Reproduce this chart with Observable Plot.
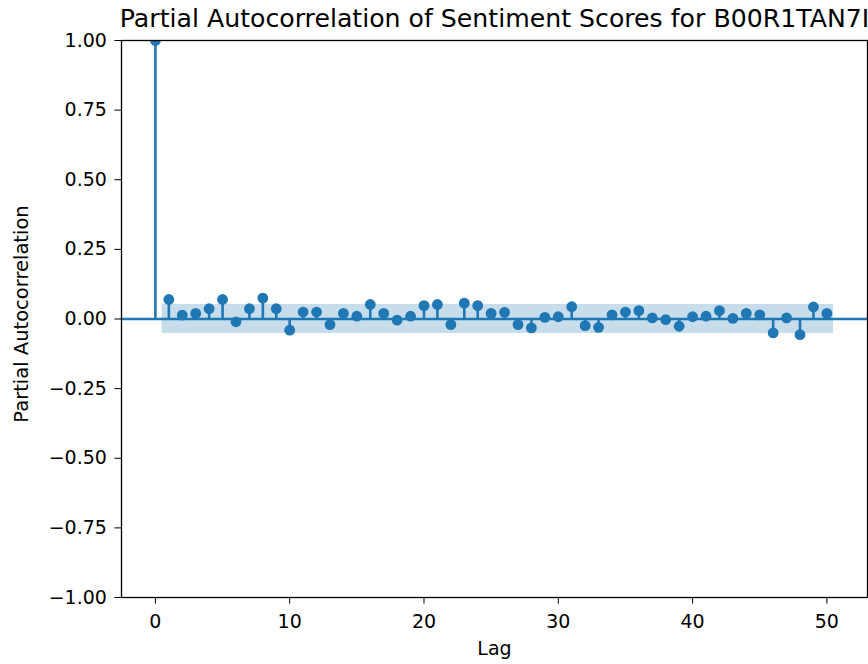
<!DOCTYPE html>
<html>
<head>
<meta charset="utf-8">
<script src="https://cdn.jsdelivr.net/npm/d3@7"></script>
<script src="https://cdn.jsdelivr.net/npm/@observablehq/plot@0.6"></script>
<style>
  html, body { margin: 0; padding: 0; background: #fff; }
  #chart svg { display: block; }
</style>
</head>
<body>
<div id="chart"></div>
<script>
const titleText = "Partial Autocorrelation of Sentiment Scores for B00R1TAN7I";
const xLabel = "Lag";
const yLabel = "Partial Autocorrelation";
const lags = d3.range(0, 51);
const pacfValues = [1.0, 0.070, 0.014, 0.020, 0.037, 0.070, -0.010, 0.037, 0.075, 0.037,
  -0.040, 0.025, 0.025, -0.020, 0.020, 0.010, 0.052, 0.020, -0.004, 0.010,
  0.048, 0.052, -0.020, 0.057, 0.048, 0.020, 0.024, -0.020, -0.032, 0.006,
  0.008, 0.044, -0.024, -0.030, 0.015, 0.025, 0.030, 0.004, -0.002, -0.026,
  0.008, 0.010, 0.030, 0.002, 0.020, 0.015, -0.050, 0.004, -0.056, 0.043, 0.020];
const confHalfWidth = 0.052;
const xTicks = [0, 10, 20, 30, 40, 50];
const yTicks = [-1, -0.75, -0.5, -0.25, 0, 0.25, 0.5, 0.75, 1];

const C0 = "#1f77b4";
const data = lags.map((lag, i) => ({lag, value: pacfValues[i]}));
// confidence band over lags 1..50, widened by half a lag at each end (as statsmodels does)
const bandLags = lags.slice(1).map((l, i, a) => i === 0 ? l - 0.5 : i === a.length - 1 ? l + 0.5 : l);
const band = bandLags.map(l => ({lag: l, lo: -confHalfWidth, hi: confHalfWidth}));

const xMin = 0, xMax = 50.5, m = 0.05 * (xMax - xMin);

const chart = Plot.plot({
  width: 868,
  height: 664,
  marginLeft: 121,
  marginRight: 1,
  marginTop: 40,
  marginBottom: 67,
  style: {fontFamily: "DejaVu Sans", fontSize: "19px", color: "black", background: "white"},
  x: {domain: [xMin - m, xMax + m]},
  y: {domain: [-1, 1]},
  marks: [
    Plot.areaY(band, {x: "lag", y1: "lo", y2: "hi", fill: C0, fillOpacity: 0.25}),
    Plot.ruleX(data, {x: "lag", y1: 0, y2: "value", stroke: C0, strokeWidth: 2.6, clip: true}),
    Plot.ruleY([0], {stroke: C0, strokeWidth: 2.6}),
    Plot.dot(data, {x: "lag", y: "value", r: 5.4, fill: C0, stroke: null, clip: true}),
    Plot.frame({stroke: "black", strokeWidth: 1.3}),
    Plot.axisX({ticks: xTicks, tickSize: 6.6, tickPadding: 10, tickFormat: d3.format("d"), label: null}),
    Plot.axisY({ticks: yTicks, tickSize: 6.6, tickPadding: 8, tickFormat: d3.format(".2f"), label: null}),
    Plot.text([titleText], {frameAnchor: "top", dy: -22, lineAnchor: "middle", textAnchor: "middle", fontSize: 25.2, fill: "black"}),
    Plot.text([xLabel], {frameAnchor: "bottom", dy: 51, lineAnchor: "middle", textAnchor: "middle", fontSize: 19, fill: "black"}),
    Plot.text([yLabel], {frameAnchor: "left", dx: -100, dy: -5, rotate: -90, lineAnchor: "middle", textAnchor: "middle", fontSize: 19.5, fill: "black"})
  ]
});
document.getElementById("chart").appendChild(chart);
</script>
</body>
</html>
